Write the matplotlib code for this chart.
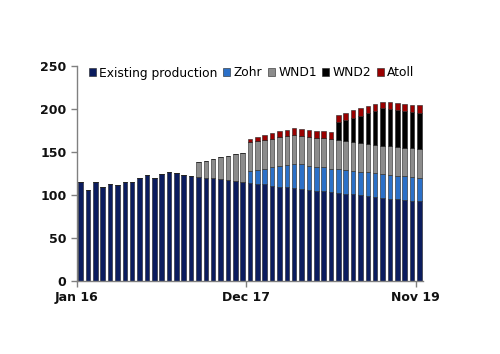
import numpy as np
import matplotlib.pyplot as plt

# monthly, Jan 16 .. Nov 19
months = ['Jan 16'] + [''] * 22 + ['Dec 17'] + [''] * 22 + ['Nov 19']

existing = [115, 105.5, 115, 109.5, 112, 111, 114.5, 114.5, 120, 123.5, 119, 124,
            126, 125, 123.5, 122, 121, 120, 119, 118, 117, 116, 115,
            114, 112.9, 112, 110.6, 109.4, 108.5, 107.4, 106.7, 105.5, 104.7, 104, 102.8,
            102, 101.2, 100.4, 99.2, 98.1, 97.3, 96.5, 95.3, 94.6, 93.4, 93, 92.3]
zohr = [0] * 23 + [13.6, 16.3, 18.3, 21.3, 24, 26.1, 28.3, 29, 28.3, 27.9, 27.9, 27.5,
                   27.9, 27.5, 27.5, 27.6, 27.9, 27.5, 27.6, 27.6, 27.5, 27.9, 27.6, 27.5]
wnd1 = [0] * 16 + [17, 19.5, 22.5, 25.5, 28, 31, 33.5,
                   33.3, 33.3, 33.3, 33.3, 33.3, 33.7, 33.4, 32.6, 33.3, 33.8, 33.7, 34.1,
                   33.3, 33.3, 33.3, 32.9, 32.9, 33, 32.9, 33.7, 33.7, 33.4, 33.7, 33.7]
wnd2 = [0] * 35 + [21.7, 24.8, 28, 32.2, 35.7, 39.5, 43.4, 43, 42.7, 42.6, 42.2, 42.2]
atoll = [0] * 23 + [4.3, 4.2, 5.9, 6.2, 7, 7.4, 8.5, 8.1, 8.2, 8.1, 8.1, 8.6,
                    7.7, 8.9, 8.9, 8.5, 8.5, 8.1, 8.1, 8.2, 8.1, 8.1, 8.5, 8.6]

series = [('Existing production', existing, '#0b1c5e'),
          ('Zohr', zohr, '#2b70c8'),
          ('WND1', wnd1, '#8c8c8c'),
          ('WND2', wnd2, '#000000'),
          ('Atoll', atoll, '#9a0000')]

fig = plt.figure(figsize=(5, 3.54), dpi=100)
ax = fig.add_axes([0.154, 0.207, 0.692, 0.607])

x = np.arange(len(existing))
bottom = np.zeros(len(x))
for name, vals, col in series:
    vals = np.array(vals, dtype=float)
    ax.bar(x, vals, 0.62, bottom=bottom, color=col, edgecolor='#222222',
           linewidth=0.4, label=name)
    bottom += vals

ax.set_xlim(-0.5, len(x) - 0.5)
ax.set_ylim(0, 250)
ax.set_yticks(range(0, 251, 50))

# ticks sit on the left edge of the labelled month
tick_idx = [i for i, m in enumerate(months) if m]
ax.set_xticks([i - 0.5 for i in tick_idx])
ax.set_xticklabels([months[i] for i in tick_idx])

for s in ['top', 'right']:
    ax.spines[s].set_visible(False)
for s in ['left', 'bottom']:
    ax.spines[s].set_color('#808080')
    ax.spines[s].set_linewidth(1.0)
ax.tick_params(axis='both', colors='#808080', length=4, width=1.0,
               labelcolor='#111111', labelsize=9)
for lab in ax.get_xticklabels() + ax.get_yticklabels():
    lab.set_fontweight('bold')

fig.legend(loc='center left', bbox_to_anchor=(0.178, 1 - 73 / 354), ncol=5,
           frameon=False, fontsize=8.8, handlelength=0.55, handleheight=0.55,
           handletextpad=0.3, columnspacing=0.45, borderpad=0, borderaxespad=0)

fig.savefig('out.png', dpi=100)
